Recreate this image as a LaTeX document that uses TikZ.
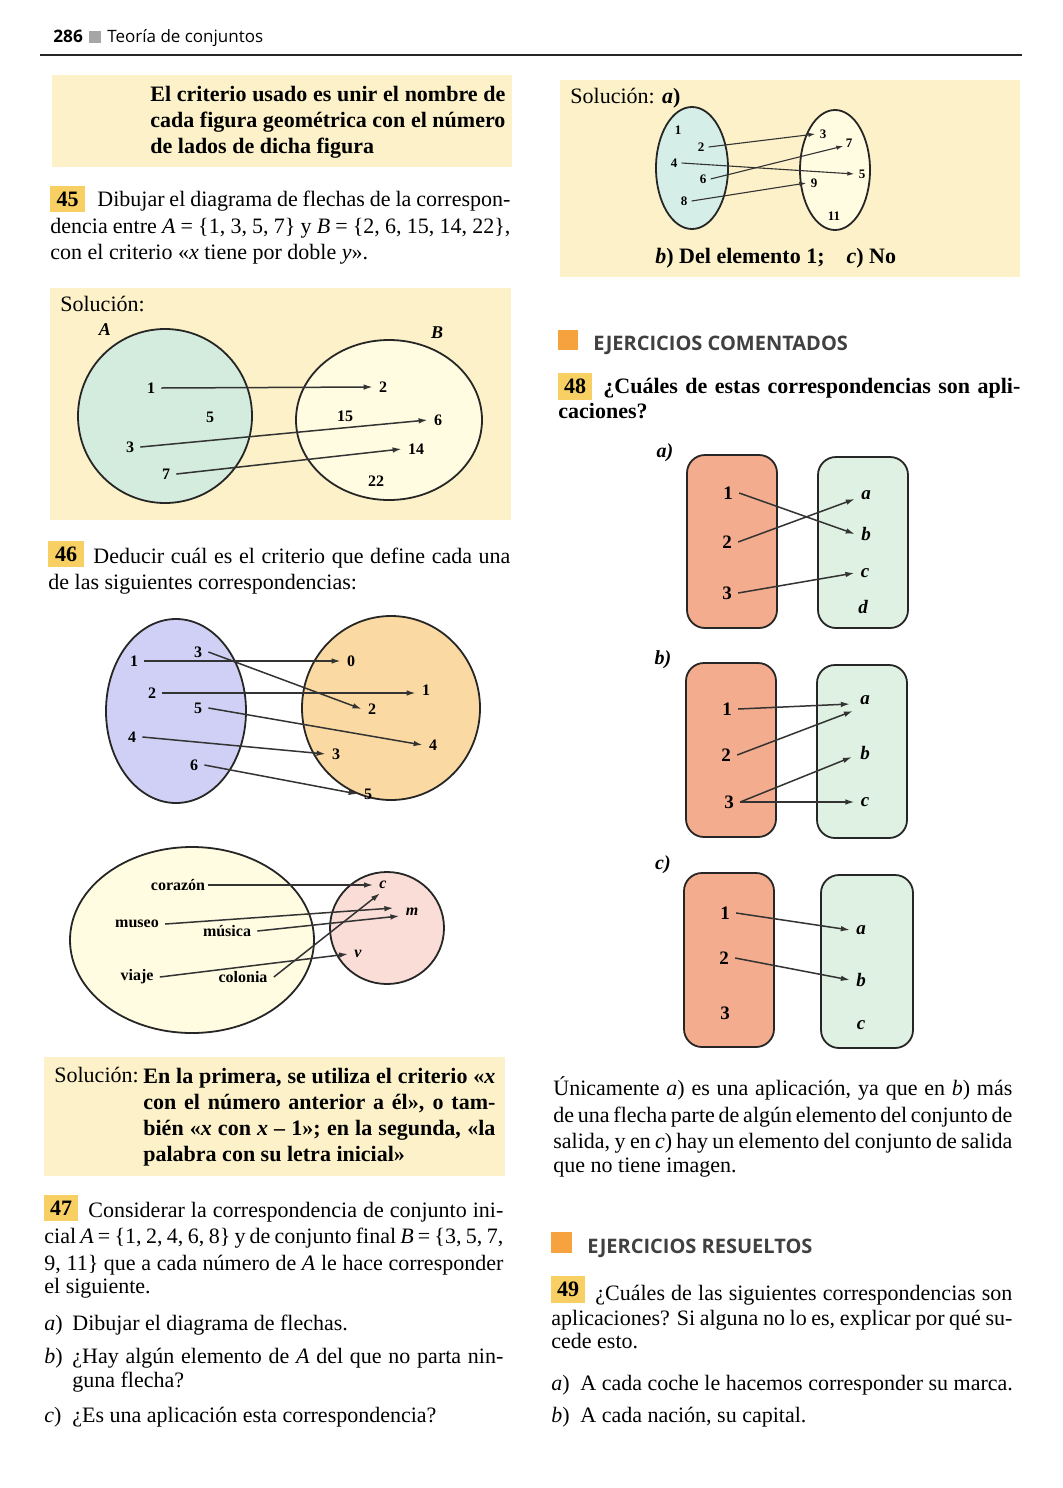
\documentclass[tikz,border=0pt]{standalone}
\usepackage{fontspec}
\setmainfont{Liberation Serif}
\newfontfamily\sansf{Open Sans}
\usetikzlibrary{arrows.meta,calc}
\definecolor{boxy}{RGB}{252,241,200}
\definecolor{badge}{RGB}{247,207,98}
\definecolor{secsq}{RGB}{246,162,62}
\definecolor{greenA}{RGB}{212,236,222}
\definecolor{ivory}{RGB}{255,252,226}
\definecolor{lav}{RGB}{208,208,246}
\definecolor{tan}{RGB}{250,218,162}
\definecolor{pinkc}{RGB}{249,221,214}
\definecolor{salmon}{RGB}{244,172,142}
\definecolor{mint}{RGB}{222,241,226}
\definecolor{cyanl}{RGB}{214,238,232}
\newcommand\jl[2]{\hbox to #1pt{#2}}
\begin{document}
\begin{tikzpicture}[x=0.5pt,y=-0.5pt,
  tx/.style={anchor=base west, inner sep=0pt, font=\fontsize{11}{13}\selectfont},
  txb/.style={anchor=base west, inner sep=0pt, font=\fontsize{11}{13}\selectfont\bfseries},
  el/.style={inner sep=3pt, font=\fontsize{8}{9}\selectfont\bfseries},
  eli/.style={inner sep=3pt, font=\fontsize{8}{9}\selectfont\bfseries\itshape},
  els/.style={inner sep=2pt, font=\fontsize{6.5}{7}\selectfont\bfseries},
  elb/.style={inner sep=3pt, font=\fontsize{9.5}{10}\selectfont\bfseries},
  elbi/.style={inner sep=3pt, font=\fontsize{9.5}{10}\selectfont\bfseries\itshape},
  arr/.style={line width=0.75pt, draw=black!80, -{Latex[length=4.5pt,width=2.8pt]}},
  arrs/.style={line width=0.55pt, draw=black!80, -{Latex[length=3.5pt,width=2.2pt]}},
  setl/.style={draw=black!85, line width=0.9pt},
  rbox/.style={draw=black!85, line width=0.9pt, rounded corners=9pt},
  badgenum/.style={font=\fontsize{11}{13}\selectfont\bfseries, inner sep=0pt},
  sec/.style={anchor=base west, inner sep=0pt, text=black!75, font=\sansf\bfseries\fontsize{10}{12}\selectfont},
  sublab/.style={font=\fontsize{10}{11}\selectfont\bfseries\itshape, inner sep=0pt}
]
\useasboundingbox (0,0) rectangle (1062,1488);
\fill[white] (0,0) rectangle (1062,1488);

% ---------- header ----------
\node[anchor=base west, inner sep=0pt, font=\sansf\bfseries\fontsize{8.6}{9}\selectfont] (pg) at (53,42) {286};
\fill[gray!70] (89,31) rectangle (101,43);
\node[anchor=base west, inner sep=0pt, font=\sansf\fontsize{8.5}{9}\selectfont] (hd) at (107,42) {Teoría de conjuntos};
\draw[line width=0.9pt, black!85] (40,55) -- (1022,55);

% ---------- box 1 ----------
\fill[boxy] (52,75) rectangle (512,167);
\node[txb] (c1) at (150,101) {\jl{177.5}{El criterio usado es unir el nombre de}};
\node[txb] (c2) at (150,127) {\jl{177.5}{cada figura geométrica con el número}};
\node[txb] (c3) at (150,153) {de lados de dicha figura};

% ---------- 45 ----------
\fill[badge] (50,186) rectangle (85,212);
\node[badgenum] (n45) at (67.5,199) {45};
\node[tx] (t45a) at (97,206) {\jl{206.5}{Dibujar el diagrama de flechas de la correspon-}};
\node[tx] (t45b) at (50,233) {\jl{230}{dencia entre \textit{A} = \{1, 3, 5, 7\} y \textit{B} = \{2, 6, 15, 14, 22\},}};
\node[tx] (t45c) at (50,259) {con el criterio «\textit{x} tiene por doble \textit{y}».};

\fill[boxy] (50,288) rectangle (511,520);
\node[tx] (s45) at (60,311) {Solución:};
\draw[setl, fill=greenA] (165,416) ellipse [x radius=43.5pt, y radius=43.5pt];
\draw[setl, fill=ivory] (389,420) ellipse [x radius=46.5pt, y radius=40pt];
\node[eli, font=\fontsize{9}{10}\selectfont\bfseries\itshape] (lA) at (105,330) {A};
\node[eli, font=\fontsize{9}{10}\selectfont\bfseries\itshape] (lB) at (437,333) {B};
\node[el] (a1) at (151,388) {1};
\node[el] (a5) at (210,417) {5};
\node[el] (a3) at (130,447) {3};
\node[el] (a7) at (166,474) {7};
\node[el] (b2) at (383,387) {2};
\node[el] (b15) at (345,416) {15};
\node[el] (b6) at (438,420) {6};
\node[el] (b14) at (416,449) {14};
\node[el] (b22) at (376,481) {22};
\draw[arr] (a1.east) -- (b2.west);
\draw[arr] (a3.east) -- (b6.west);
\draw[arr] (a7.east) -- (b14.west);

% ---------- 46 ----------
\fill[badge] (48,541) rectangle (84,567);
\node[badgenum] (n46) at (66,554) {46};
\node[tx] (t46a) at (93,563) {\jl{208.5}{Deducir cuál es el criterio que define cada una}};
\node[tx] (t46b) at (48,589) {de las siguientes correspondencias:};

\draw[setl, fill=lav] (176,711) ellipse [x radius=35pt, y radius=46pt];
\draw[setl, fill=tan] (391,708) ellipse [x radius=44.5pt, y radius=46pt];
\node[el] (l1) at (134,661) {1};
\node[el] (l3) at (198,652) {3};
\node[el] (l2) at (152,693) {2};
\node[el] (l5) at (198,708) {5};
\node[el] (l4) at (132,737) {4};
\node[el] (l6) at (194,765) {6};
\node[el] (r0) at (351,661) {0};
\node[el] (r1) at (426,690) {1};
\node[el] (r2) at (372,709) {2};
\node[el] (r4) at (433,745) {4};
\node[el] (r3) at (336,754) {3};
\node[el] (r5) at (368,794) {5};
\draw[arr] (l1.east) -- (r0.west);
\draw[arr] (l3.east) -- (r2.west);
\draw[arr] (l2.east) -- ($(r1.west)+(0,3)$);
\draw[arr] (l5.east) -- (r4.west);
\draw[arr] (l4.east) -- (r3.west);
\draw[arr] (l6.east) -- (r5.west);

\draw[setl, fill=ivory] (192,940) ellipse [x radius=61pt, y radius=46.5pt];
\draw[setl, fill=pinkc] (387,928) ellipse [x radius=28.5pt, y radius=28pt];
\node[el] (cor) at (178,885) {corazón};
\node[el] (mus) at (137,924) {museo};
\node[el] (musi) at (227,931) {música};
\node[el] (via) at (137,977) {viaje};
\node[el] (col) at (243,977) {colonia};
\node[eli] (wc) at (383,885) {c};
\node[eli] (wm) at (412,912) {m};
\node[eli] (wv) at (358,954) {v};
\draw[arr] ($(cor.east)+(-4,0)$) -- (wc.west);
\draw[arr] (mus.east) -- ($(wm.west)+(-6,-4)$);
\draw[arr] (musi.east) -- ($(wm.west)+(0,4)$);
\draw[arr] (via.east) -- (wv.west);
\draw[arr] (col.east) -- ($(wc.south)+(-3,-2)$);

\fill[boxy] (44,1057) rectangle (505,1176);
\node[tx] (s46) at (54,1082) {Solución:};
\node[txb] (s46a) at (143,1083) {\jl{176}{En la primera, se utiliza el criterio «\textit{x}}};
\node[txb] (s46b) at (143,1109) {\jl{176}{con el número anterior a él», o tam-}};
\node[txb] (s46c) at (143,1135) {\jl{176}{bién «\textit{x} con \textit{x} – 1»; en la segunda, «la}};
\node[txb] (s46d) at (143,1161) {palabra con su letra inicial»};

% ---------- 47 ----------
\fill[badge] (44,1195) rectangle (78,1221);
\node[badgenum] (n47) at (61,1208) {47};
\node[tx] (t47a) at (88,1217) {\jl{207.5}{Considerar la correspondencia de conjunto ini-}};
\node[tx] (t47b) at (44,1243) {\jl{229.5}{cial \textit{A} = \{1, 2, 4, 6, 8\} y de conjunto final \textit{B} = \{3, 5, 7,}};
\node[tx] (t47c) at (44,1270) {\jl{229.5}{9, 11\} que a cada número de \textit{A} le hace corresponder}};
\node[tx] (t47d) at (44,1293) {el siguiente.};
\node[tx] (i47a) at (44,1330) {\textit{a})};
\node[tx] (t47e) at (72,1330) {Dibujar el diagrama de flechas.};
\node[tx] (i47b) at (44,1363) {\textit{b})};
\node[tx] (t47f) at (72,1363) {\jl{215.5}{¿Hay algún elemento de \textit{A} del que no parta nin-}};
\node[tx] (t47g) at (72,1387) {guna flecha?};
\node[tx] (i47c) at (44,1422) {\textit{c})};
\node[tx] (t47h) at (72,1422) {¿Es una aplicación esta correspondencia?};

% ---------- right column: solution 47 ----------
\fill[boxy] (560,80) rectangle (1020,277);
\node[tx] (s47) at (570,103) {Solución: \textbf{\textit{a})}};
\draw[setl, fill=cyanl] (692,168) ellipse [x radius=18pt, y radius=30.5pt];
\draw[setl, fill=ivory] (835,170) ellipse [x radius=17.5pt, y radius=30pt];
\node[els] (p1) at (678,130) {1};
\node[els] (p2) at (701,147) {2};
\node[els] (p4) at (674,163) {4};
\node[els] (p6) at (703,179) {6};
\node[els] (p8) at (684,201) {8};
\node[els] (q3) at (823,134) {3};
\node[els] (q7) at (849,143) {7};
\node[els] (q5) at (862,174) {5};
\node[els] (q9) at (814,183) {9};
\node[els] (q11) at (834,216) {11};
\draw[arrs] (p2.east) -- (q3.west);
\draw[arrs] (p4.east) -- (q5.west);
\draw[arrs] (p6.east) -- ($(q7.west)+(2,3)$);
\draw[arrs] (p8.east) -- (q9.west);
\node[txb] (s47b) at (655,263) {\textit{b}) Del elemento 1;\quad \textit{c}) No};

% ---------- EJERCICIOS COMENTADOS ----------
\fill[secsq] (558,330) rectangle (578,350);
\node[sec] (sec1) at (593,350) {EJERCICIOS COMENTADOS};
\fill[badge] (558,373) rectangle (592,400);
\node[badgenum] (n48) at (575,386.5) {48};
\node[txb] (t48a) at (603,393) {\jl{208.5}{¿Cuáles de estas correspondencias son apli-}};
\node[txb] (t48b) at (558,418) {caciones?};

% 48 a
\node[sublab] (la) at (665,453) {a)};
\draw[rbox, fill=salmon] (687,455) rectangle (777,628);
\draw[rbox, fill=mint] (818,457) rectangle (908,628);
\node[elb] (xa1) at (728,493) {1};
\node[elb] (xa2) at (727,542) {2};
\node[elb] (xa3) at (727,593) {3};
\node[elbi] (ya) at (866,495) {a};
\node[elbi] (yb) at (866,534) {b};
\node[elbi] (yc) at (865,573) {c};
\node[elbi] (yd) at (863,607) {d};
\draw[arr] (xa1.east) -- (yb.west);
\draw[arr] (xa2.east) -- ($(ya.west)+(0,4)$);
\draw[arr] (xa3.east) -- (yc.west);

% 48 b
\node[sublab] (lb) at (663,660) {b)};
\draw[rbox, fill=salmon] (686,663) rectangle (776,837);
\draw[rbox, fill=mint] (817,665) rectangle (907,838);
\node[elb] (xb1) at (727,709) {1};
\node[elb] (xb2) at (726,755) {2};
\node[elb] (xb3) at (729,802) {3};
\node[elbi] (zb1) at (865,700) {a};
\node[elbi] (zb2) at (865,753) {b};
\node[elbi] (zb3) at (865,802) {c};
\draw[arr] (xb1.east) -- ($(zb1.west)+(-4,4)$);
\draw[arr] (xb2.east) -- ($(zb1.west)+(-1,11)$);
\draw[arr] (xb3.east) -- ($(zb2.west)+(-2,4)$);
\draw[arr] (xb3.east) -- (zb3.west);

% 48 c
\node[sublab] (lc) at (663,865) {c)};
\draw[rbox, fill=salmon] (684,873) rectangle (774,1047);
\draw[rbox, fill=mint] (821,875) rectangle (913,1048);
\node[elb] (xc1) at (725,913) {1};
\node[elb] (xc2) at (724,958) {2};
\node[elb] (xc3) at (725,1013) {3};
\node[elbi] (zc1) at (861,930) {a};
\node[elbi] (zc2) at (861,980) {b};
\node[elbi] (zc3) at (861,1025) {c};
\draw[arr] (xc1.east) -- (zc1.west);
\draw[arr] (xc2.east) -- (zc2.west);

% comment text
\node[tx] (u1) at (553,1095) {\jl{229.5}{Únicamente \textit{a}) es una aplicación, ya que en \textit{b}) más}};
\node[tx] (u2) at (553,1122) {\jl{229.5}{de una flecha parte de algún elemento del conjunto de}};
\node[tx] (u3) at (553,1148) {\jl{229.5}{salida, y en \textit{c}) hay un elemento del conjunto de salida}};
\node[tx] (u4) at (553,1172) {que no tiene imagen.};

% ---------- EJERCICIOS RESUELTOS ----------
\fill[secsq] (551,1232) rectangle (572,1253);
\node[sec] (sec2) at (587,1253) {EJERCICIOS RESUELTOS};
\fill[badge] (551,1276) rectangle (585,1303);
\node[badgenum] (n49) at (568,1289.5) {49};
\node[tx] (t49a) at (595,1300) {\jl{208.5}{¿Cuáles de las siguientes correspondencias son}};
\node[tx] (t49b) at (551,1325) {\jl{230.5}{aplicaciones? Si alguna no lo es, explicar por qué su-}};
\node[tx] (t49c) at (551,1348) {cede esto.};
\node[tx] (i49a) at (551,1390) {\textit{a})};
\node[tx] (t49d) at (580,1390) {A cada coche le hacemos corresponder su marca.};
\node[tx] (i49b) at (551,1422) {\textit{b})};
\node[tx] (t49e) at (580,1422) {A cada nación, su capital.};
\end{tikzpicture}
\end{document}
